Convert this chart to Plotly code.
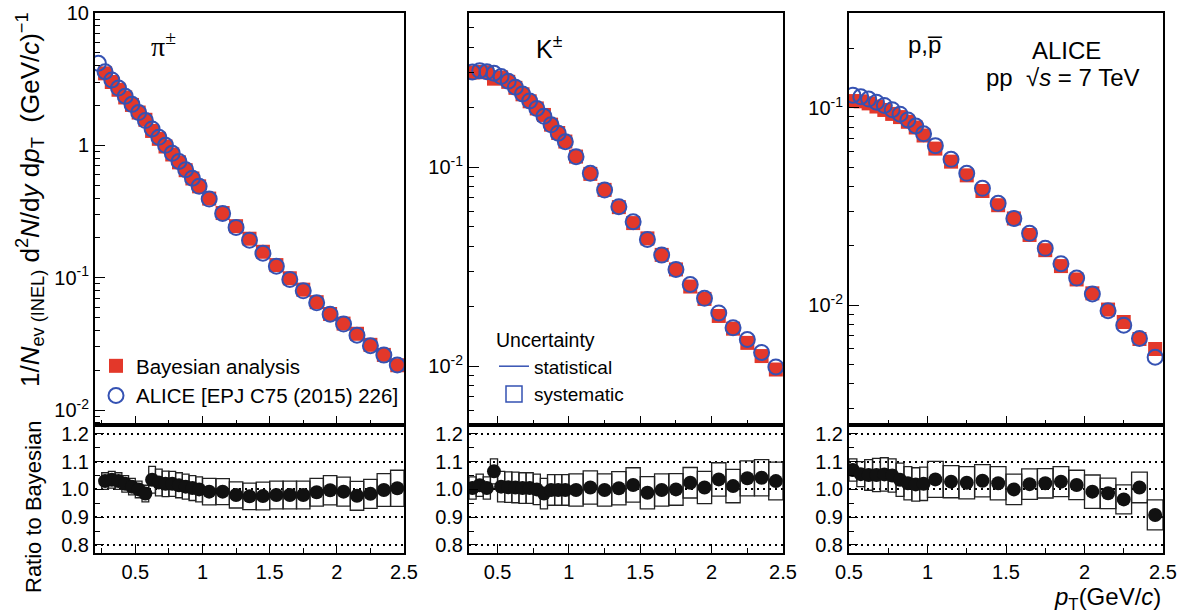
import plotly.graph_objects as go

# ---------------- data ----------------
pion_x_alice = [0.225, 0.275, 0.325, 0.375, 0.425, 0.475, 0.525, 0.575, 0.625, 0.675,
                0.725, 0.775, 0.825, 0.875, 0.925, 0.975, 1.05, 1.15, 1.25, 1.35,
                1.45, 1.55, 1.65, 1.75, 1.85, 1.95, 2.05, 2.15, 2.25, 2.35, 2.45]
pion_alice = [4.17, 3.60, 3.12, 2.71, 2.35, 2.04, 1.77, 1.54, 1.33, 1.15,
              1.00, 0.87, 0.755, 0.655, 0.565, 0.49, 0.393, 0.306, 0.240, 0.192,
              0.153, 0.122, 0.097, 0.0796, 0.0646, 0.053, 0.0446, 0.0368, 0.0306, 0.026, 0.0219]
pion_x_bayes = [0.275, 0.325, 0.375, 0.425, 0.475, 0.525, 0.575, 0.625, 0.675,
                0.725, 0.775, 0.825, 0.875, 0.925, 0.975, 1.05, 1.15, 1.25, 1.35,
                1.45, 1.55, 1.65, 1.75, 1.85, 1.95, 2.05, 2.15, 2.25, 2.35, 2.45]
pion_bayes = [3.50, 3.01, 2.63, 2.30, 2.02, 1.77, 1.56, 1.285, 1.12,
              0.98, 0.853, 0.744, 0.649, 0.562, 0.49, 0.396, 0.308, 0.245, 0.197,
              0.157, 0.1245, 0.099, 0.0812, 0.0653, 0.0532, 0.045, 0.0377, 0.0311, 0.0261, 0.0218]
pion_ratio = [1.03, 1.035, 1.03, 1.02, 1.01, 1.0, 0.985, 1.035, 1.025,
              1.02, 1.02, 1.015, 1.01, 1.005, 1.0, 0.992, 0.992, 0.98, 0.975,
              0.976, 0.98, 0.98, 0.98, 0.99, 0.997, 0.992, 0.977, 0.984, 0.998, 1.004]
pion_syst = [0.03, 0.03, 0.03, 0.03, 0.03, 0.03, 0.03, 0.048, 0.048,
             0.046, 0.045, 0.045, 0.045, 0.045, 0.045, 0.048, 0.047, 0.047, 0.048,
             0.05, 0.05, 0.05, 0.05, 0.05, 0.053, 0.052, 0.052, 0.052, 0.059, 0.065]

kaon_x = [0.325, 0.375, 0.425, 0.475, 0.525, 0.575, 0.625, 0.675, 0.725, 0.775,
          0.825, 0.875, 0.925, 0.975, 1.05, 1.15, 1.25, 1.35, 1.45, 1.55,
          1.65, 1.75, 1.85, 1.95, 2.05, 2.15, 2.25, 2.35, 2.45]
kaon_alice = [0.300, 0.305, 0.301, 0.296, 0.285, 0.270, 0.252, 0.233, 0.215, 0.197,
              0.180, 0.163, 0.148, 0.134, 0.1127, 0.093, 0.0766, 0.0632, 0.0531, 0.0433,
              0.0361, 0.0306, 0.0257, 0.0219, 0.0185, 0.0156, 0.0136, 0.0117, 0.0099]
kaon_bayes = [0.2985, 0.3005, 0.2995, 0.278, 0.282, 0.268, 0.250, 0.232, 0.214, 0.197,
              0.1827, 0.1633, 0.1483, 0.1343, 0.1129, 0.0924, 0.0768, 0.0629, 0.0523, 0.0438,
              0.0362, 0.0306, 0.0251, 0.02175, 0.01786, 0.01542, 0.01308, 0.01123, 0.00961]
kaon_ratio = [1.005, 1.015, 1.005, 1.065, 1.01, 1.008, 1.007, 1.005, 1.005, 1.0,
              0.985, 0.998, 0.998, 0.998, 0.998, 1.007, 0.998, 1.004, 1.016, 0.988,
              0.998, 1.0, 1.024, 1.007, 1.036, 1.012, 1.04, 1.042, 1.03]
kaon_syst = [0.04, 0.04, 0.04, 0.045, 0.055, 0.055, 0.055, 0.055, 0.055, 0.055,
             0.055, 0.055, 0.055, 0.055, 0.058, 0.06, 0.058, 0.06, 0.062, 0.058,
             0.058, 0.057, 0.055, 0.058, 0.06, 0.06, 0.063, 0.065, 0.068]

proton_x = [0.525, 0.575, 0.625, 0.675, 0.725, 0.775, 0.825, 0.875, 0.925, 0.975,
            1.05, 1.15, 1.25, 1.35, 1.45, 1.55, 1.65, 1.75, 1.85, 1.95,
            2.05, 2.15, 2.25, 2.35, 2.45]
proton_alice = [0.116, 0.114, 0.111, 0.107, 0.103, 0.098, 0.093, 0.087, 0.081, 0.074,
                0.0644, 0.0549, 0.0466, 0.0391, 0.0328, 0.0275, 0.0231, 0.0194, 0.0162, 0.0137,
                0.01137, 0.00935, 0.0079, 0.00677, 0.00543]
proton_bayes = [0.1084, 0.1081, 0.1055, 0.1017, 0.0977, 0.0933, 0.0899, 0.0851, 0.0796, 0.0725,
                0.0622, 0.0534, 0.0455, 0.0379, 0.0321, 0.0275, 0.02267, 0.01898, 0.01576, 0.01348,
                0.01146, 0.00948, 0.0082, 0.00672, 0.00598]
proton_ratio = [1.07, 1.055, 1.052, 1.052, 1.054, 1.05, 1.035, 1.022, 1.018, 1.02,
                1.036, 1.028, 1.024, 1.031, 1.022, 1.0, 1.019, 1.022, 1.028, 1.016,
                0.992, 0.986, 0.964, 1.007, 0.908]
proton_syst = [0.04, 0.045, 0.055, 0.06, 0.06, 0.06, 0.06, 0.06, 0.06, 0.06,
               0.065, 0.058, 0.058, 0.058, 0.06, 0.055, 0.055, 0.053, 0.054, 0.053,
               0.06, 0.055, 0.052, 0.055, 0.054]

spec_tickvals = [10, 1, 0.1, 0.01]
spec_ticktext = ["10", "1", "10<sup>-1</sup>", "10<sup>-2</sup>"]
ratio_tickvals = [0.8, 0.9, 1.0, 1.1, 1.2]
ratio_ticktext = ["0.8", "0.9", "1.0", "1.1", "1.2"]
x_tickvals = [0.5, 1, 1.5, 2, 2.5]
x_ticktext = ["0.5", "1", "1.5", "2", "2.5"]

# ---------------- style ----------------
FONT = "Liberation Sans, Arial, sans-serif"
RED = "#e3382a"
BLUE = "#3552b3"
W, H = 1182, 615

panels_x = [(95, 404), (469, 783), (849, 1163)]
x_ranges = [[0.2, 2.5], [0.3, 2.5], [0.5, 2.5]]
y_ranges = [[-2.113, 1.0], [-2.296, -0.226], [-2.609, -0.518]]
top_px = (13, 425)
rat_px = (425, 553)


def xd(a, b):
    return [a / W, b / W]


def yd(t, b):
    return [1 - b / H, 1 - t / H]


minor_log = [m * 10 ** e for e in range(-3, 2) for m in range(2, 10)]

fig = go.Figure()

species = [
    (pion_x_alice, pion_alice, pion_x_bayes, pion_bayes, pion_ratio, pion_syst),
    (kaon_x, kaon_alice, kaon_x, kaon_bayes, kaon_ratio, kaon_syst),
    (proton_x, proton_alice, proton_x, proton_bayes, proton_ratio, proton_syst),
]

for i, (xa, ya, xb, yb, rr, ss) in enumerate(species):
    n_top = i + 1
    n_rat = i + 4
    xt, yt = ("x" if n_top == 1 else f"x{n_top}"), ("y" if n_top == 1 else f"y{n_top}")
    xr, yr = f"x{n_rat}", f"y{n_rat}"
    fig.add_trace(go.Scatter(
        x=xb, y=yb, mode="markers", xaxis=xt, yaxis=yt,
        marker=dict(symbol="square", size=14, color=RED),
        name="Bayesian analysis", showlegend=(i == 0), legend="legend"))
    fig.add_trace(go.Scatter(
        x=xa, y=ya, mode="markers", xaxis=xt, yaxis=yt,
        marker=dict(symbol="circle-open", size=15, color=BLUE, line=dict(width=2, color=BLUE)),
        name="ALICE [EPJ C75 (2015) 226]", showlegend=(i == 0), legend="legend"))
    widths = [0.05 if v < 1 else 0.1 for v in xb]
    fig.add_trace(go.Bar(
        x=xb, y=[2 * s for s in ss], base=[r - s for r, s in zip(rr, ss)],
        width=widths, xaxis=xr, yaxis=yr, showlegend=False,
        marker=dict(color="rgba(0,0,0,0)", line=dict(color="#222222", width=1.3))))
    fig.add_trace(go.Scatter(
        x=xb, y=rr, mode="markers", xaxis=xr, yaxis=yr, showlegend=False,
        marker=dict(symbol="circle", size=14, color="#111111")))

# legend-only entries for the uncertainty legend
fig.add_trace(go.Scatter(x=[None], y=[None], mode="lines", xaxis="x2", yaxis="y2",
                         line=dict(color=BLUE, width=1.5), name="statistical",
                         legend="legend2"))
fig.add_trace(go.Scatter(x=[None], y=[None], mode="markers", xaxis="x2", yaxis="y2",
                         marker=dict(symbol="square-open", size=20, color=BLUE,
                                     line=dict(width=1.5, color=BLUE)),
                         name="systematic", legend="legend2"))

tickfont = dict(family=FONT, size=20, color="black")
layout = dict(
    width=W, height=H, margin=dict(l=0, r=0, t=0, b=0, autoexpand=False),
    paper_bgcolor="white", plot_bgcolor="white",
    font=dict(family=FONT, size=18, color="black"),
    barmode="overlay",
    legend=dict(x=96 / W, y=1 - 346 / H, xanchor="left", yanchor="top",
                bgcolor="rgba(0,0,0,0)", font=dict(family=FONT, size=20.5),
                itemwidth=30, tracegroupgap=0),
    legend2=dict(x=494 / W, y=1 - 322 / H, xanchor="left", yanchor="top",
                 bgcolor="rgba(0,0,0,0)", font=dict(family=FONT, size=19),
                 title=dict(text="Uncertainty", font=dict(family=FONT, size=19.5)),
                 itemwidth=30, tracegroupgap=0),
)

for i in range(3):
    n_top, n_rat = i + 1, i + 4
    kx_t = "xaxis" if n_top == 1 else f"xaxis{n_top}"
    ky_t = "yaxis" if n_top == 1 else f"yaxis{n_top}"
    a, b = panels_x[i]
    common_x = dict(domain=xd(a, b), range=x_ranges[i], showline=True, linewidth=2,
                    linecolor="black", mirror=True, ticks="inside", ticklen=9,
                    tickwidth=1.2, tickcolor="black", tickvals=x_tickvals,
                    ticktext=x_ticktext, showgrid=False, zeroline=False,
                    automargin=False,
                    minor=dict(ticks="inside", ticklen=5, dtick=0.25, tick0=0,
                               tickcolor="black", showgrid=False),
                    tickfont=tickfont)
    layout[kx_t] = dict(common_x, anchor="y" if n_top == 1 else f"y{n_top}",
                        showticklabels=False)
    layout[f"xaxis{n_rat}"] = dict(common_x, anchor=f"y{n_rat}", showticklabels=True)
    layout[ky_t] = dict(domain=yd(*top_px), type="log", range=y_ranges[i],
                        anchor="x" if n_top == 1 else f"x{n_top}",
                        showline=True, linewidth=2, linecolor="black", mirror=True,
                        ticks="inside", ticklen=10, tickwidth=1.2, tickcolor="black",
                        tickvals=spec_tickvals, ticktext=spec_ticktext,
                        showgrid=False, zeroline=False, tickfont=tickfont,
                        automargin=False,
                        minor=dict(ticks="inside", ticklen=5, tickvals=minor_log,
                                   tickcolor="black", showgrid=False))
    layout[f"yaxis{n_rat}"] = dict(domain=yd(*rat_px), range=[0.771, 1.232],
                                   anchor=f"x{n_rat}", showline=True, linewidth=2,
                                   linecolor="black", mirror=True, ticks="inside",
                                   ticklen=9, tickwidth=1.2, tickcolor="black",
                                   tickvals=ratio_tickvals, ticktext=ratio_ticktext,
                                   showgrid=True, gridcolor="black", griddash="2px,4px",
                                   gridwidth=2, zeroline=False, tickfont=tickfont,
                                   automargin=False,
                                   minor=dict(ticks="inside", ticklen=5, dtick=0.05,
                                              tick0=0, tickcolor="black", showgrid=False))

fig.update_layout(**layout)

ann = [
    dict(text="π<sup>±</sup>", x=163 / W, y=1 - 45 / H,
         font=dict(family="Liberation Serif, DejaVu Serif, serif", size=28)),
    dict(text="K<sup>±</sup>", x=549 / W, y=1 - 47 / H, font=dict(family=FONT, size=25)),
    dict(text="p,p\u0305", x=925 / W, y=1 - 45 / H, font=dict(family=FONT, size=24)),
    dict(text="ALICE", x=1066 / W, y=1 - 50 / H, font=dict(family=FONT, size=24)),
    dict(text="pp  \u221A<i>s</i> = 7 TeV", x=1063 / W, y=1 - 77 / H,
         font=dict(family=FONT, size=24)),
    dict(text="1/<i>N</i><sub>ev (INEL)</sub> d<sup>2</sup><i>N</i>/d<i>y</i> d<i>p</i><sub>T</sub>  (GeV/<i>c</i>)<sup>\u22121</sup>",
         x=30 / W, y=1 - 200 / H, textangle=-90, font=dict(family=FONT, size=26)),
    dict(text="Ratio to Bayesian", x=33 / W, y=1 - 507 / H, textangle=-90,
         font=dict(family=FONT, size=22)),
    dict(text="<i>p</i><sub>T</sub>(GeV/<i>c</i>)", x=1163 / W, y=1 - 598 / H,
         xanchor="right", font=dict(family=FONT, size=24)),
]
for a in ann:
    a.setdefault("xanchor", "center")
    fig.add_annotation(xref="paper", yref="paper", yanchor="middle", showarrow=False, **a)

fig.write_html("out.html", config={"displayModeBar": False},
               post_script="document.body.style.margin='0px';document.body.style.padding='0px';")
